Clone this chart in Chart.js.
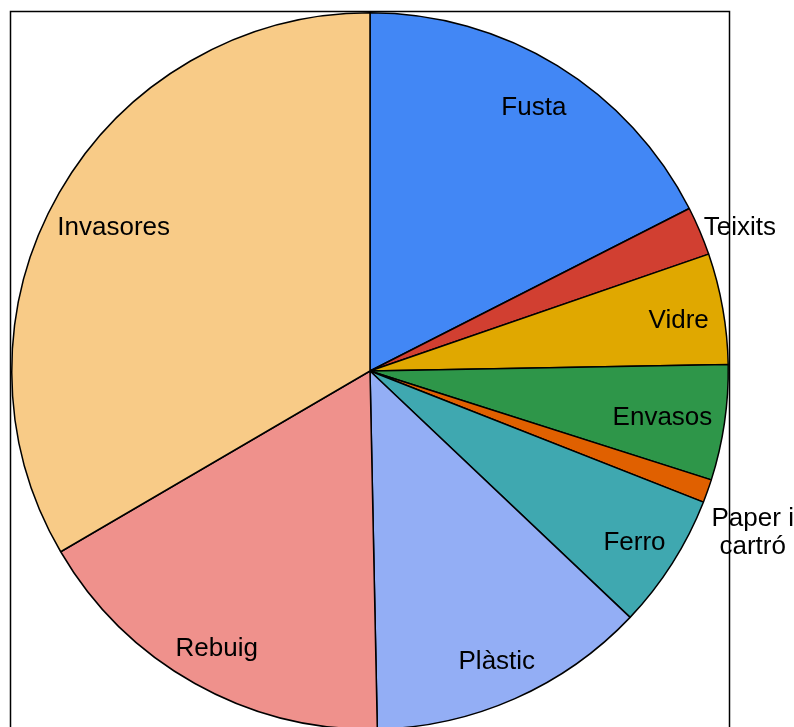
<!DOCTYPE html>
<html lang="ca">
<head>
  <meta charset="UTF-8">
  <title>Residus</title>
  <script src="https://cdn.jsdelivr.net/npm/chart.js"></script>
  <style>
    html, body {
      margin: 0;
      padding: 0;
      overflow: hidden;
      background: #fff;
    }
    #wrap {
      width: 794px;
      height: 740px;
    }
  </style>
</head>
<body>
  <div id="wrap"><canvas id="chart"></canvas></div>

  <script>
    // Dades (percentatges llegits de la imatge)
    const categories = ["Fusta", "Teixits", "Vidre", "Envasos", "Paper i cartró", "Ferro", "Plàstic", "Rebuig", "Invasores"];
    const values = [17.5, 2.2, 5.0, 5.2, 1.05, 6.1, 12.6, 16.9, 33.4];
    const labelLines = [["Fusta"], ["Teixits"], ["Vidre"], ["Envasos"], ["Paper i", "cartró"], ["Ferro"], ["Plàstic"], ["Rebuig"], ["Invasores"]];
    const colors = ["#4287f5", "#d13f31", "#e0a800", "#2e9649", "#e06000", "#3fa8b0", "#93aef5", "#ef918c", "#f8cb87"];

    const FONT = "26px 'Liberation Sans', Arial, sans-serif";
    const LINE_H = 28;

    // marc negre al voltant de l'àrea del gràfic
    const framePlugin = {
      id: "frame",
      beforeDraw(chart) {
        const { ctx, chartArea: a } = chart;
        ctx.save();
        ctx.strokeStyle = "#000";
        ctx.lineWidth = 1.5;
        ctx.strokeRect(a.left - 0.5, a.top - 0.5, a.right - a.left + 1, a.bottom - a.top + 20);
        ctx.restore();
      }
    };

    // etiquetes dins / fora dels sectors
    const labelPlugin = {
      id: "sliceLabels",
      afterDatasetsDraw(chart) {
        const { ctx } = chart;
        const arcs = chart.getDatasetMeta(0).data;
        const total = values.reduce((s, v) => s + v, 0);
        ctx.save();
        ctx.font = FONT;
        ctx.fillStyle = "#000";
        ctx.textBaseline = "middle";
        arcs.forEach((arc, i) => {
          const { x, y, startAngle, endAngle, outerRadius: r } = arc.getProps(["x", "y", "startAngle", "endAngle", "outerRadius"], true);
          const mid = (startAngle + endAngle) / 2;
          const lines = labelLines[i];
          const w = Math.max(...lines.map(l => ctx.measureText(l).width));
          const h = lines.length * LINE_H - 4;
          let cx, cy;
          if (values[i] / total < 0.03) {
            // fora: alineat a l'esquerra just a la vora del cercle
            const px = x + Math.cos(mid) * r;
            const py = y + Math.sin(mid) * r;
            const dir = Math.sin(mid) >= 0 ? 1 : -1;
            const left = px + 4;
            cy = py + dir * (lines.length - 1) * LINE_H * 1.5;
            const hit = () => [cy - h / 2, cy + h / 2].some(yy => Math.hypot(left - x, yy - y) < r);
            let n = 0;
            while (hit() && n++ < 100) cy += dir;
            cx = left + w / 2;
          } else {
            // dins: comença a 0.875 r i entra cap al centre fins que el text hi cap
            let f = 0.875;
            while (f > 0.4) {
              cx = x + Math.cos(mid) * r * f;
              cy = y + Math.sin(mid) * r * f;
              const corners = [[-w / 2, -h / 2 + 6], [w / 2, -h / 2 + 6], [-w / 2, h / 2 - 6], [w / 2, h / 2 - 6]];
              if (corners.every(([dx, dy]) => Math.hypot(cx + dx - x, cy + dy - y) < r - 10)) break;
              f -= 0.01;
            }
            cy += 4;
          }
          ctx.textAlign = "center";
          lines.forEach((l, k) => {
            ctx.fillText(l, cx, cy + (k - (lines.length - 1) / 2) * LINE_H);
          });
        });
        ctx.restore();
      }
    };

    new Chart(document.getElementById("chart"), {
      type: "pie",
      data: {
        labels: categories,
        datasets: [{
          data: values,
          backgroundColor: colors,
          borderColor: "#000",
          borderWidth: 1.5,
        }],
      },
      options: {
        responsive: true,
        maintainAspectRatio: false,
        animation: false,
        layout: { padding: { left: 11, right: 65, top: 12, bottom: 10 } },
        plugins: {
          legend: { display: false },
          tooltip: { enabled: false },
        },
      },
      plugins: [framePlugin, labelPlugin],
    });
  </script>
</body>
</html>
